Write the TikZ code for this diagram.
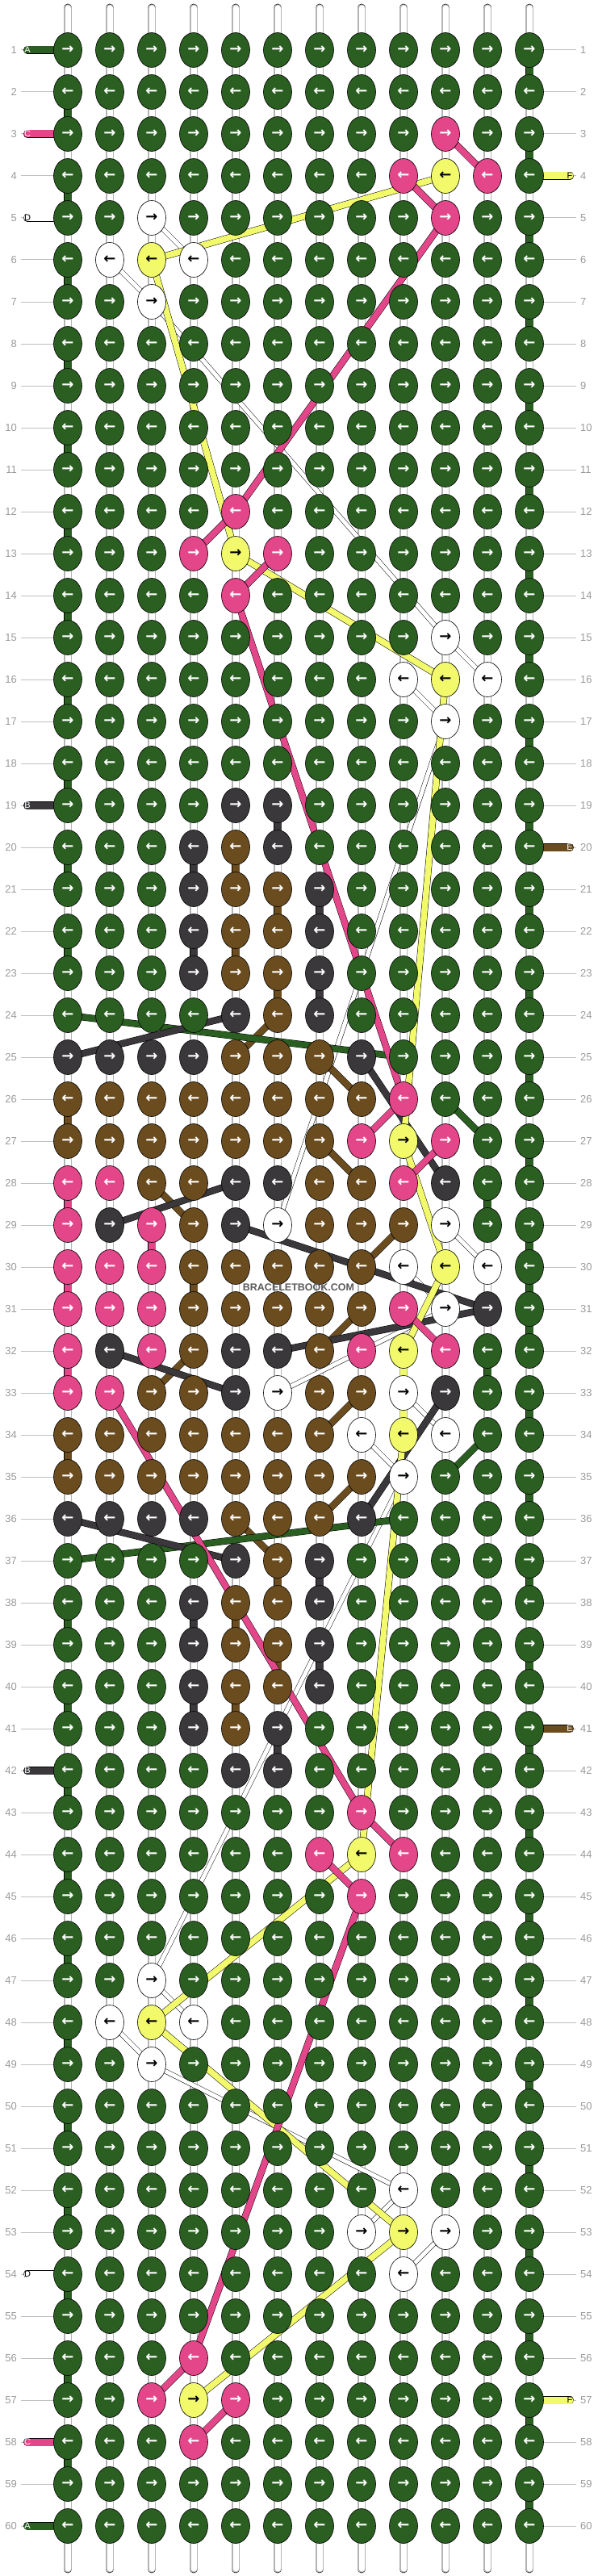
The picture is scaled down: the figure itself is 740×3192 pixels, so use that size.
\documentclass[tikz,border=0pt]{standalone}
\usepackage{fontspec}
\setmainfont{Liberation Sans}
\newfontfamily\arrowfont{DejaVu Sans}
\usetikzlibrary{shapes.geometric}
\definecolor{cG}{HTML}{2B5F22}
\definecolor{cP}{HTML}{E4468A}
\definecolor{cY}{HTML}{F2FA6C}
\definecolor{cW}{HTML}{FFFFFF}
\definecolor{cK}{HTML}{3A383B}
\definecolor{cN}{HTML}{6B4C1F}
\definecolor{numgray}{HTML}{9A9A9A}
\definecolor{linegray}{HTML}{C0C0C0}
\definecolor{basegray}{HTML}{B4B4B4}
\definecolor{logogray}{HTML}{5A5A5A}
\pgfdeclarelayer{strings}
\pgfdeclarelayer{bars}
\pgfdeclarelayer{strands}
\pgfsetlayers{strings,bars,strands,main}

\begin{document}
\begin{tikzpicture}[x=1pt, y=-1pt,
  knot/.style={ellipse, draw=black, line width=0.6pt, minimum width=35pt,
    minimum height=43pt, inner sep=0pt, font=\arrowfont\bfseries\fontsize{18}{18}\selectfont},
  on G/.style={fill=cG, text=white},
  on P/.style={fill=cP, text=white},
  on K/.style={fill=cK, text=white},
  on N/.style={fill=cN, text=white},
  on Y/.style={fill=cY, text=black},
  on W/.style={fill=cW, text=black},
  base/.style={draw=black, line width=0.7pt, double=basegray, double distance=9.4pt, line cap=round},
  base core/.style={draw=white, line width=7pt, line cap=round},
  bar/.style={draw=black, line width=0.5pt, double distance=9pt},
  strand/.style={draw=black, line width=0.5pt, double distance=7.5pt},
  thread/.style={draw=black, line width=0.5pt, double=white, double distance=5pt},
  numline/.style={draw=linegray, line width=1pt},
  rownum/.style={text=numgray, inner sep=0pt, font=\fontsize{13}{13}\selectfont},
  tag/.style={fill=none, inner sep=0pt, font=\fontsize{11}{11}\selectfont}]
  \useasboundingbox (0,0) rectangle (740,3192);

  \foreach \row [count=\r] in {
    {G,G,G,G,G,G,G,G,G,G,G,G},
    {G,G,G,G,G,G,G,G,G,G,G,G},
    {G,G,G,G,G,G,G,G,G,P,G,G},
    {G,G,G,G,G,G,G,G,P,Y,P,G},
    {G,G,W,G,G,G,G,G,G,P,G,G},
    {G,W,Y,W,G,G,G,G,G,G,G,G},
    {G,G,W,G,G,G,G,G,G,G,G,G},
    {G,G,G,G,G,G,G,G,G,G,G,G},
    {G,G,G,G,G,G,G,G,G,G,G,G},
    {G,G,G,G,G,G,G,G,G,G,G,G},
    {G,G,G,G,G,G,G,G,G,G,G,G},
    {G,G,G,G,P,G,G,G,G,G,G,G},
    {G,G,G,P,Y,P,G,G,G,G,G,G},
    {G,G,G,G,P,G,G,G,G,G,G,G},
    {G,G,G,G,G,G,G,G,G,W,G,G},
    {G,G,G,G,G,G,G,G,W,Y,W,G},
    {G,G,G,G,G,G,G,G,G,W,G,G},
    {G,G,G,G,G,G,G,G,G,G,G,G},
    {G,G,G,G,K,K,G,G,G,G,G,G},
    {G,G,G,K,N,K,G,G,G,G,G,G},
    {G,G,G,K,N,N,K,G,G,G,G,G},
    {G,G,G,K,N,N,K,G,G,G,G,G},
    {G,G,G,K,N,N,K,G,G,G,G,G},
    {G,G,G,G,K,N,K,G,G,G,G,G},
    {K,K,K,K,N,N,N,K,G,G,G,G},
    {N,N,N,N,N,N,N,N,P,G,G,G},
    {N,N,N,N,N,N,N,P,Y,P,G,G},
    {P,P,N,N,K,K,N,N,P,K,G,G},
    {P,K,P,N,K,W,N,N,N,W,G,G},
    {P,P,P,N,N,N,N,N,W,Y,W,G},
    {P,P,P,N,N,N,N,N,P,W,K,G},
    {P,K,P,N,K,K,N,P,Y,P,G,G},
    {P,P,N,N,K,W,N,N,W,K,G,G},
    {N,N,N,N,N,N,N,W,Y,W,G,G},
    {N,N,N,N,N,N,N,N,W,G,G,G},
    {K,K,K,K,N,N,N,K,G,G,G,G},
    {G,G,G,G,K,N,K,G,G,G,G,G},
    {G,G,G,K,N,N,K,G,G,G,G,G},
    {G,G,G,K,N,N,K,G,G,G,G,G},
    {G,G,G,K,N,N,K,G,G,G,G,G},
    {G,G,G,K,N,K,G,G,G,G,G,G},
    {G,G,G,G,K,K,G,G,G,G,G,G},
    {G,G,G,G,G,G,G,P,G,G,G,G},
    {G,G,G,G,G,G,P,Y,P,G,G,G},
    {G,G,G,G,G,G,G,P,G,G,G,G},
    {G,G,G,G,G,G,G,G,G,G,G,G},
    {G,G,W,G,G,G,G,G,G,G,G,G},
    {G,W,Y,W,G,G,G,G,G,G,G,G},
    {G,G,W,G,G,G,G,G,G,G,G,G},
    {G,G,G,G,G,G,G,G,G,G,G,G},
    {G,G,G,G,G,G,G,G,G,G,G,G},
    {G,G,G,G,G,G,G,G,W,G,G,G},
    {G,G,G,G,G,G,G,W,Y,W,G,G},
    {G,G,G,G,G,G,G,G,W,G,G,G},
    {G,G,G,G,G,G,G,G,G,G,G,G},
    {G,G,G,P,G,G,G,G,G,G,G,G},
    {G,G,P,Y,P,G,G,G,G,G,G,G},
    {G,G,G,P,G,G,G,G,G,G,G,G},
    {G,G,G,G,G,G,G,G,G,G,G,G},
    {G,G,G,G,G,G,G,G,G,G,G,G}}{
    \foreach \k [count=\c] in \row
      \node[knot, on \k] (k\r-\c) at ({84+52*(\c-1)}, {62+52*(\r-1)}) {\ifodd\r →\else ←\fi};
  }

  \foreach \r in {1,...,60} {
    \node[rownum, anchor=east] (nl\r) at (21, {62+52*(\r-1)}) {\r};
    \node[rownum, anchor=west] (nr\r) at (719, {62+52*(\r-1)}) {\r};
  }
  \foreach \c in {1,...,12} {
    \coordinate (top\c) at ({84+52*(\c-1)}, 10);
    \coordinate (bot\c) at ({84+52*(\c-1)}, 3183);
  }

  \foreach \r/\lab/\col in {1/A/G, 3/C/P, 5/D/W, 19/B/K, 42/B/K, 54/D/W, 58/C/P, 60/A/G}
    \node[on \col, tag] (tl\r) at (34, {62+52*(\r-1)}) {\lab};
  \foreach \r/\lab/\col in {4/F/Y, 20/E/N, 41/E/N, 57/F/Y}
    \node[on \col, tag] (tr\r) at (706, {62+52*(\r-1)}) {\lab};

  \node[font=\bfseries\fontsize{12.5}{12.5}\selectfont, text=logogray] (logo) at (370, 1595) {BRACELETBOOK.COM};

  \begin{pgfonlayer}{strings}
    \foreach \r in {1,...,60} {
      \draw[numline] ([xshift=5pt]nl\r.east) -- (k\r-1.center);
      \draw[numline] ([xshift=-5pt]nr\r.west) -- (k\r-12.center);
    }
    \foreach \c in {1,...,12} {
      \draw[base] (top\c) -- (bot\c);
      \draw[base core] (top\c) -- (bot\c);
    }
  \end{pgfonlayer}

  \begin{pgfonlayer}{bars}
    \foreach \r in {1,...,24,37,...,60}
      \foreach \c [evaluate=\c as \d using int(\c+1)] in {1,...,11}
        \draw[bar, double=cG] (k\r-\c.center) -- (k\r-\d.center);
    \foreach \r/\bl in {
      25/{K,K,K,K,K,K,K,X,G,G,G},
      26/{N,N,N,N,N,N,N,X,X,G,G},
      27/{N,N,N,N,N,N,X,P,P,X,G},
      28/{P,P,P,P,K,K,K,K,K,X,G},
      29/{P,K,K,K,N,W,W,W,W,X,G},
      30/{P,P,X,N,N,N,N,X,W,W,X},
      31/{P,P,P,P,P,P,P,P,X,X,X},
      32/{P,K,K,K,K,K,P,P,P,X,G},
      33/{P,X,N,N,K,K,K,K,K,X,G},
      34/{N,N,N,N,N,N,X,W,W,X,G},
      35/{N,N,N,N,N,N,N,X,X,G,G},
      36/{K,K,K,K,K,K,K,G,G,G,G}}
      \foreach \b [count=\c, evaluate=\c as \d using int(\c+1)] in \bl {
        \if X\b\else
          \draw[bar, double=c\b] (k\r-\c.center) -- (k\r-\d.center);
        \fi
      }
    \foreach \r [evaluate=\r as \s using int(\r+1)] in {1,3,...,59}
      \draw[bar, double=cG] (k\r-12.center) -- (k\s-12.center);
    \foreach \r [evaluate=\r as \s using int(\r+1)] in {2,4,...,22,38,40,...,58}
      \draw[bar, double=cG] (k\r-1.center) -- (k\s-1.center);
    \foreach \c/\r/\col [evaluate=\r as \s using int(\r+1)] in {
      11/28/G, 12/30/G, 11/32/G, 1/28/P, 3/29/P, 1/30/P, 1/32/P,
      5/20/N, 6/21/N, 5/22/N, 6/23/N, 1/26/N, 4/30/N, 1/34/N,
      6/37/N, 5/38/N, 6/39/N, 5/40/N,
      6/19/K, 4/20/K, 7/21/K, 4/22/K, 7/23/K,
      7/37/K, 4/38/K, 7/39/K, 4/40/K, 6/41/K}
      \draw[bar, double=c\col] (k\r-\c.center) -- (k\s-\c.center);
    \foreach \r/\col in {1/G, 3/P, 5/W, 19/K, 42/K, 54/W, 58/P, 60/G}
      \draw[bar, double=c\col, line cap=round] (tl\r.center) -- (k\r-1.center);
    \foreach \r/\col in {4/Y, 20/N, 41/N, 57/Y}
      \draw[bar, double=c\col, line cap=round] (tr\r.center) -- (k\r-12.center);
  \end{pgfonlayer}

  \begin{pgfonlayer}{strands}
    \foreach \a/\b in {5-3/6-4, 6-2/7-3, 7-3/15-10, 15-10/16-11, 16-9/17-10,
      17-10/29-6, 29-10/30-11, 30-9/31-10, 31-10/33-6, 33-9/34-10, 34-8/35-9,
      35-9/47-3, 47-3/48-4, 48-2/49-3, 49-3/52-9, 52-9/53-8, 53-10/54-9}
      \draw[thread] (k\a.center) -- (k\b.center);
    \foreach \a/\b in {24-6/25-5, 25-7/26-8, 27-7/28-8, 28-3/29-4, 29-9/30-8,
      31-8/32-7, 32-4/33-3, 33-8/34-7, 35-8/36-7, 36-5/37-6}
      \draw[strand, double=cN] (k\a.center) -- (k\b.center);
    \foreach \a/\b in {24-1/25-9, 26-10/27-11, 34-11/35-10, 36-9/37-1}
      \draw[strand, double=cG] (k\a.center) -- (k\b.center);
    \foreach \a/\b in {24-5/25-1, 25-8/28-10, 28-5/29-2, 29-5/31-11, 31-11/32-6,
      32-2/33-5, 33-10/36-8, 36-1/37-5}
      \draw[strand, double=cK] (k\a.center) -- (k\b.center);
    \foreach \a/\b in {4-10/6-3, 6-3/13-5, 13-5/16-10, 16-10/27-9, 27-9/30-10,
      30-10/32-9, 32-9/34-9, 34-9/44-8, 44-8/48-3, 48-3/53-9, 53-9/57-4}
      \draw[strand, double=cY] (k\a.center) -- (k\b.center);
    \foreach \a/\b in {3-10/4-11, 4-9/5-10, 5-10/12-5, 12-5/13-4, 13-6/14-5,
      14-5/26-9, 26-9/27-8, 27-10/28-9, 31-9/32-10, 33-2/43-8, 43-8/44-9,
      44-7/45-8, 45-8/56-4, 56-4/57-3, 57-5/58-4}
      \draw[strand, double=cP] (k\a.center) -- (k\b.center);
  \end{pgfonlayer}
\end{tikzpicture}
\end{document}
